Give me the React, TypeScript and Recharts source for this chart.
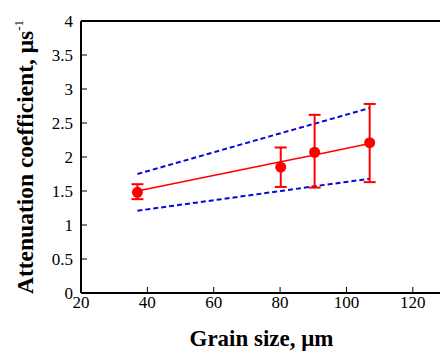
import React from 'react';
import { ComposedChart, Line, Scatter, ErrorBar, XAxis, YAxis, Label } from 'recharts';

const grainSize = [37, 80.2, 90.4, 107];
const measured = [1.48, 1.85, 2.07, 2.21];
const errLow = [0.1, 0.29, 0.52, 0.58];
const errHigh = [0.12, 0.29, 0.55, 0.57];
const fitLine = [1.5, 1.93, 2.03, 2.2];
const upperBound = [1.75, 2.35, 2.49, 2.72];
const lowerBound = [1.21, 1.5, 1.57, 1.68];
const xTicks = [20, 40, 60, 80, 100, 120];
const yTicks = [0, 0.5, 1, 1.5, 2, 2.5, 3, 3.5, 4];

const FONT = "'Liberation Serif', 'Times New Roman', serif";
const RED = '#ff0000';
const BLUE = '#0808d8';

const rows = grainSize.map((x, i) => ({
  x,
  measured: measured[i],
  err: [errLow[i], errHigh[i]],
  fit: fitLine[i],
  upper: upperBound[i],
  lower: lowerBound[i],
}));

const axisLine = { stroke: '#000', strokeWidth: 2 };
const tickLine = { stroke: '#000', strokeWidth: 1 };

// serif tick labels (the built-in tick text came out sans)
const XTick = (p: any) => (
  <text x={p.x} y={p.y} dy="0.71em" textAnchor="middle" fontFamily={FONT} fontSize={17} fill="#000">
    {p.payload.value}
  </text>
);
const YTick = (p: any) => (
  <text x={p.x} y={p.y} dy="0.355em" textAnchor="end" fontFamily={FONT} fontSize={17} fill="#000">
    {p.payload.value}
  </text>
);

const XTitle = (props: any) => {
  const vb = props.viewBox;
  return (
    <text x={vb.x + vb.width / 2 - 2} y={vb.y + vb.height - 7} textAnchor="middle"
      fontFamily={FONT} fontWeight="bold" fontSize={23} fill="#000">
      Grain size, μm
    </text>
  );
};

const YTitle = () => {
  const cx = 33;
  const cy = 157;
  return (
    <text x={cx} y={cy} transform={`rotate(-90, ${cx}, ${cy})`} textAnchor="middle"
      fontFamily={FONT} fontWeight="bold" fontSize={23.5} fill="#000">
      Attenuation coefficient, μs
      <tspan dy={-10} fontSize={13} fontWeight="normal">-1</tspan>
    </text>
  );
};

export default function App() {
  return (
    <div style={{ position: 'fixed', left: 0, top: 0, width: 440, height: 353, overflow: 'hidden', background: '#fff', fontFamily: FONT }}>
      <ComposedChart width={480} height={353} data={rows} margin={{ top: 1, right: 0, left: 31, bottom: 0 }}>
        <XAxis xAxisId="b" type="number" dataKey="x" domain={[20, 130]} ticks={xTicks}
          height={60} axisLine={axisLine} tickLine={tickLine} tickSize={-6} tickMargin={9} tick={XTick}>
          <Label content={XTitle} />
        </XAxis>
        <XAxis xAxisId="t" orientation="top" type="number" dataKey="x" domain={[20, 130]} ticks={xTicks}
          height={20} axisLine={axisLine} tickLine={tickLine} tickSize={-6} tick={false} />
        <YAxis yAxisId="l" type="number" domain={[0, 4]} ticks={yTicks} width={50}
          axisLine={axisLine} tickLine={tickLine} tickSize={-6} tickMargin={14} tick={YTick}>
          <Label content={YTitle} />
        </YAxis>
        <YAxis yAxisId="r" orientation="right" type="number" domain={[0, 4]} ticks={yTicks} width={34}
          axisLine={axisLine} tickLine={tickLine} tickSize={-6} tick={false} />
        <Line xAxisId="b" yAxisId="l" dataKey="upper" stroke={BLUE} strokeWidth={2} strokeDasharray="5 3"
          dot={false} isAnimationActive={false} />
        <Line xAxisId="b" yAxisId="l" dataKey="lower" stroke={BLUE} strokeWidth={2} strokeDasharray="5 3"
          dot={false} isAnimationActive={false} />
        <Line xAxisId="b" yAxisId="l" dataKey="fit" stroke={RED} strokeWidth={1.5}
          dot={false} isAnimationActive={false} />
        <Scatter xAxisId="b" yAxisId="l" dataKey="measured" fill={RED} isAnimationActive={false}
          shape={(p: any) => <circle cx={p.cx} cy={p.cy} r={5.5} fill={RED} />}>
          <ErrorBar dataKey="err" direction="y" width={6} stroke={RED} strokeWidth={2} isAnimationActive={false} />
        </Scatter>
      </ComposedChart>
    </div>
  );
}
